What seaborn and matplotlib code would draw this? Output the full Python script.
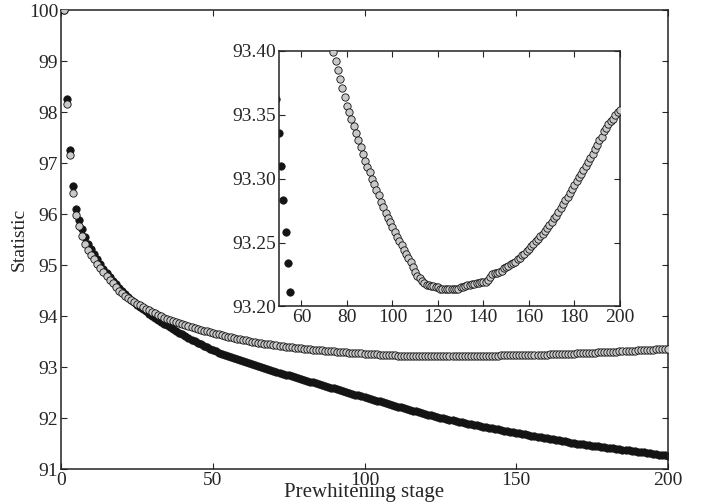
import matplotlib
matplotlib.use("Agg")
import matplotlib.pyplot as plt
import seaborn as sns
import pandas as pd
import numpy as np

stage = list(range(1, 201))

black_series = [
    100.00, 98.25, 97.25, 96.54, 96.10, 95.89, 95.70, 95.55, 95.42, 95.31,
    95.21, 95.11, 95.02, 94.93, 94.85, 94.77, 94.69, 94.62, 94.55, 94.49,
    94.43, 94.37, 94.315, 94.268, 94.222, 94.177, 94.133, 94.090, 94.048, 94.007,
    93.967, 93.928, 93.890, 93.852, 93.815, 93.778, 93.742, 93.707, 93.672, 93.638,
    93.604, 93.571, 93.538, 93.506, 93.474, 93.443, 93.413, 93.388, 93.362, 93.336,
    93.310, 93.283, 93.258, 93.234, 93.211, 93.190, 93.170, 93.150, 93.130, 93.110,
    93.091, 93.072, 93.053, 93.034, 93.015, 92.996, 92.978, 92.960, 92.942, 92.924,
    92.906, 92.888, 92.870, 92.852, 92.835, 92.818, 92.801, 92.784, 92.767, 92.750,
    92.733, 92.716, 92.699, 92.682, 92.665, 92.648, 92.631, 92.614, 92.597, 92.580,
    92.563, 92.546, 92.529, 92.512, 92.495, 92.478, 92.461, 92.444, 92.427, 92.410,
    92.393, 92.376, 92.359, 92.342, 92.325, 92.308, 92.291, 92.274, 92.257, 92.240,
    92.224, 92.208, 92.192, 92.176, 92.160, 92.144, 92.128, 92.112, 92.096, 92.080,
    92.066, 92.052, 92.038, 92.024, 92.010, 91.996, 91.982, 91.968, 91.954, 91.940,
    91.928, 91.916, 91.904, 91.892, 91.880, 91.868, 91.856, 91.844, 91.832, 91.820,
    91.809, 91.798, 91.787, 91.776, 91.765, 91.754, 91.743, 91.732, 91.721, 91.710,
    91.699, 91.688, 91.677, 91.666, 91.655, 91.644, 91.633, 91.622, 91.611, 91.600,
    91.590, 91.580, 91.570, 91.560, 91.550, 91.540, 91.530, 91.520, 91.510, 91.500,
    91.492, 91.484, 91.476, 91.468, 91.460, 91.452, 91.444, 91.436, 91.428, 91.420,
    91.412, 91.404, 91.396, 91.388, 91.380, 91.372, 91.364, 91.356, 91.348, 91.340,
    91.332, 91.324, 91.316, 91.308, 91.300, 91.292, 91.284, 91.276, 91.268, 91.260,
]

gray_series = [
    100.00, 98.16, 97.16, 96.42, 95.98, 95.76, 95.57, 95.42, 95.30, 95.20,
    95.11, 95.02, 94.94, 94.86, 94.78, 94.71, 94.64, 94.57, 94.50, 94.45,
    94.40, 94.36, 94.32, 94.28, 94.24, 94.21, 94.17, 94.14, 94.11, 94.08,
    94.05, 94.02, 94.00, 93.97, 93.95, 93.92, 93.90, 93.88, 93.86, 93.84,
    93.82, 93.80, 93.78, 93.76, 93.745, 93.73, 93.715, 93.70, 93.685, 93.67,
    93.655, 93.64, 93.625, 93.61, 93.595, 93.582, 93.569, 93.557, 93.545, 93.533,
    93.522, 93.511, 93.500, 93.490, 93.480, 93.470, 93.460, 93.451, 93.442, 93.433,
    93.424, 93.415, 93.407, 93.399, 93.392, 93.385, 93.378, 93.371, 93.364, 93.357,
    93.352, 93.347, 93.341, 93.336, 93.330, 93.325, 93.319, 93.314, 93.309, 93.305,
    93.300, 93.296, 93.291, 93.287, 93.282, 93.278, 93.273, 93.269, 93.266, 93.262,
    93.258, 93.254, 93.251, 93.248, 93.244, 93.241, 93.238, 93.235, 93.231, 93.227,
    93.224, 93.222, 93.220, 93.218, 93.217, 93.217, 93.216, 93.216, 93.215, 93.215,
    93.214, 93.214, 93.214, 93.2135, 93.2135, 93.2135, 93.2135, 93.214, 93.214, 93.215,
    93.2155, 93.216, 93.2165, 93.217, 93.2172, 93.2175, 93.218, 93.2185, 93.219, 93.219,
    93.2195, 93.221, 93.223, 93.225, 93.226, 93.2265, 93.227, 93.228, 93.230, 93.231,
    93.232, 93.233, 93.234, 93.235, 93.237, 93.238, 93.240, 93.241, 93.243, 93.245,
    93.247, 93.249, 93.251, 93.253, 93.255, 93.257, 93.259, 93.261, 93.264, 93.266,
    93.269, 93.271, 93.274, 93.277, 93.280, 93.283, 93.286, 93.289, 93.292, 93.295,
    93.298, 93.301, 93.304, 93.307, 93.310, 93.313, 93.316, 93.319, 93.323, 93.326,
    93.330, 93.333, 93.337, 93.340, 93.343, 93.345, 93.347, 93.350, 93.352, 93.354,
]

main_xticks = [0, 50, 100, 150, 200]
main_yticks = [91, 92, 93, 94, 95, 96, 97, 98, 99, 100]
inset_xticks = [60, 80, 100, 120, 140, 160, 180, 200]
inset_yticks = [93.20, 93.25, 93.30, 93.35, 93.40]

df = pd.DataFrame({"stage": stage, "black": black_series, "gray": gray_series})

sns.set_style("ticks")
plt.rcParams["font.family"] = ["Liberation Serif", "DejaVu Serif"]
plt.rcParams["xtick.direction"] = "in"
plt.rcParams["ytick.direction"] = "in"
plt.rcParams["xtick.top"] = True
plt.rcParams["ytick.right"] = True
plt.rcParams["axes.linewidth"] = 1.1
plt.rcParams["axes.edgecolor"] = "#222222"

fig = plt.figure(figsize=(7.02, 5.04), dpi=100)
ax = fig.add_axes([0.0869, 0.0694, 0.8647, 0.9107])

BLACK = "#141414"
GRAY = "#c9c9c9"
S = 28

def draw(a):
    sns.scatterplot(data=df, x="stage", y="black", ax=a, color=BLACK,
                    edgecolor=BLACK, s=S, linewidth=0.6, zorder=2, legend=False)
    sns.scatterplot(data=df, x="stage", y="gray", ax=a, color=GRAY,
                    edgecolor="#111111", s=S, linewidth=0.6, zorder=3, legend=False)

draw(ax)
ax.set_xlim(0, 200)
ax.set_ylim(91, 100)
ax.set_xticks(main_xticks)
ax.set_yticks(main_yticks)
ax.tick_params(axis="both", which="major", length=4, width=0.8, labelsize=14,
               pad=2, direction="in", top=True, right=True)
ax.set_xlabel("Prewhitening stage", fontsize=15, labelpad=-4)
ax.set_ylabel("Statistic", fontsize=14, labelpad=1)

axin = fig.add_axes([0.397, 0.392, 0.486, 0.507])
draw(axin)
axin.set_xlim(50, 200)
axin.set_ylim(93.20, 93.40)
axin.set_xticks(inset_xticks)
axin.set_yticks(inset_yticks)
axin.set_yticklabels([f"{v:.2f}" for v in inset_yticks])
axin.tick_params(axis="both", which="major", length=4, width=0.8, labelsize=14,
                 pad=2, direction="in", top=True, right=True)
axin.set_xlabel("")
axin.set_ylabel("")

fig.savefig("out.png", dpi=100)
